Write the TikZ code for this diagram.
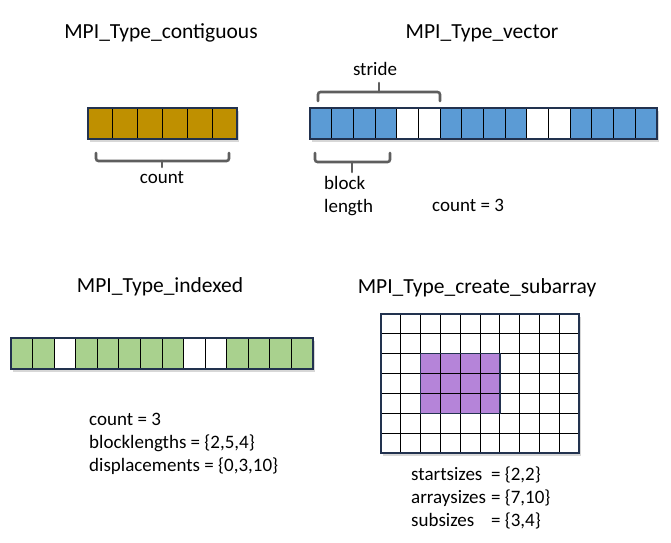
\documentclass[tikz,border=0pt]{standalone}
\usepackage{fontspec}
\setmainfont{Carlito}
\usetikzlibrary{shadows}
\definecolor{contgold}{HTML}{BF9000}
\definecolor{vecblue}{HTML}{5B9BD5}
\definecolor{idxgreen}{HTML}{A9D18E}
\definecolor{subpurple}{HTML}{B584D9}
\definecolor{frameblue}{HTML}{22324F}
\definecolor{bracegray}{HTML}{5E5E5E}
\tikzset{
  title/.style={font=\fontsize{21.5}{24}\selectfont},
  txt/.style={font=\fontsize{19}{23}\selectfont, inner sep=0pt},
  cellline/.style={black, line width=0.9pt},
  barframe/.style={draw=frameblue, line width=1.4pt},
  barshadow/.style={drop shadow={shadow xshift=1.5pt, shadow yshift=-2.5pt, opacity=.35, fill=black!45}},
  bracket/.style={draw=bracegray, line width=2.6pt, rounded corners=2.5pt, line cap=round},
}
\begin{document}
\begin{tikzpicture}[x=1pt, y=-1pt]
  \useasboundingbox (0,0) rectangle (671,542);

  % titles
  \node[title] (tcontig) at (161,33) {MPI\_Type\_contiguous};
  \node[title] (tvector) at (482,33) {MPI\_Type\_vector};
  \node[title] (tindexed) at (160,287) {MPI\_Type\_indexed};
  \node[title] (tsubarray) at (477,288) {MPI\_Type\_create\_subarray};

  % contiguous
  \fill[contgold, barshadow] (88,108) rectangle (237,139);
  \foreach \i in {1,...,5}
    \draw[cellline] ({88+\i*24.833},108) -- ++(0,31);
  \draw[barframe] (88,108) rectangle (237,139);
  \draw[bracket] (96,153) |- (229,161) -- (229,153);
  \draw[bracket] (162,161) -- (162,167);
  \node[txt] (ccount) at (162,178) {count};

  % vector
  \fill[white, barshadow] (310,108) rectangle (657,139);
  \foreach \c [count=\i from 0] in {vecblue,vecblue,vecblue,vecblue,white,white,
      vecblue,vecblue,vecblue,vecblue,white,white,vecblue,vecblue,vecblue,vecblue}
    \fill[\c] ({310+\i*21.6875},108) rectangle ++(21.6875,31);
  \foreach \i in {1,...,15}
    \draw[cellline] ({310+\i*21.6875},108) -- ++(0,31);
  \draw[barframe] (310,108) rectangle (657,139);
  \draw[bracket] (318,101) |- (440,92) -- (440,101);
  \draw[bracket] (379,92) -- (379,83);
  \node[txt] (stride) at (375,69) {stride};
  \draw[bracket] (315,153) |- (390,162) -- (390,153);
  \draw[bracket] (352,162) -- (352,172);
  \node[txt, align=left, anchor=west] (blocklen) at (324,196) {block\\length};
  \node[txt, anchor=west] (vcount) at (432,205) {count = 3};

  % indexed
  \fill[white, barshadow] (11,338) rectangle (313,369);
  \foreach \c [count=\i from 0] in {idxgreen,idxgreen,white,idxgreen,idxgreen,idxgreen,idxgreen,
      idxgreen,white,white,idxgreen,idxgreen,idxgreen,idxgreen}
    \fill[\c] ({11+\i*21.5714},338) rectangle ++(21.5714,31);
  \foreach \i in {1,...,13}
    \draw[cellline] ({11+\i*21.5714},338) -- ++(0,31);
  \draw[barframe] (11,338) rectangle (313,369);
  \node[txt, align=left, anchor=west] (iparams) at (89,444)
    {count = 3\\blocklengths = \{2,5,4\}\\displacements = \{0,3,10\}};

  % subarray
  \fill[white, barshadow] (381,314) rectangle (579,453);
  \fill[subpurple] (420.6,353.7) rectangle (499.8,413.3);
  \foreach \i in {1,...,9}
    \draw[cellline] ({381+\i*19.8},314) -- ++(0,139);
  \foreach \j in {1,...,6}
    \draw[cellline] (381,{314+\j*19.857}) -- ++(198,0);
  \draw[barframe] (420.6,353.7) rectangle (499.8,413.3);
  \draw[barframe] (381,314) rectangle (579,453);
  \node[txt, anchor=north west] (sparams) at (411,464)
    {\begin{tabular}{@{}l@{\hspace{5pt}}l@{}}
      startsizes & = \{2,2\}\\
      arraysizes & = \{7,10\}\\
      subsizes & = \{3,4\}
    \end{tabular}};
\end{tikzpicture}
\end{document}
